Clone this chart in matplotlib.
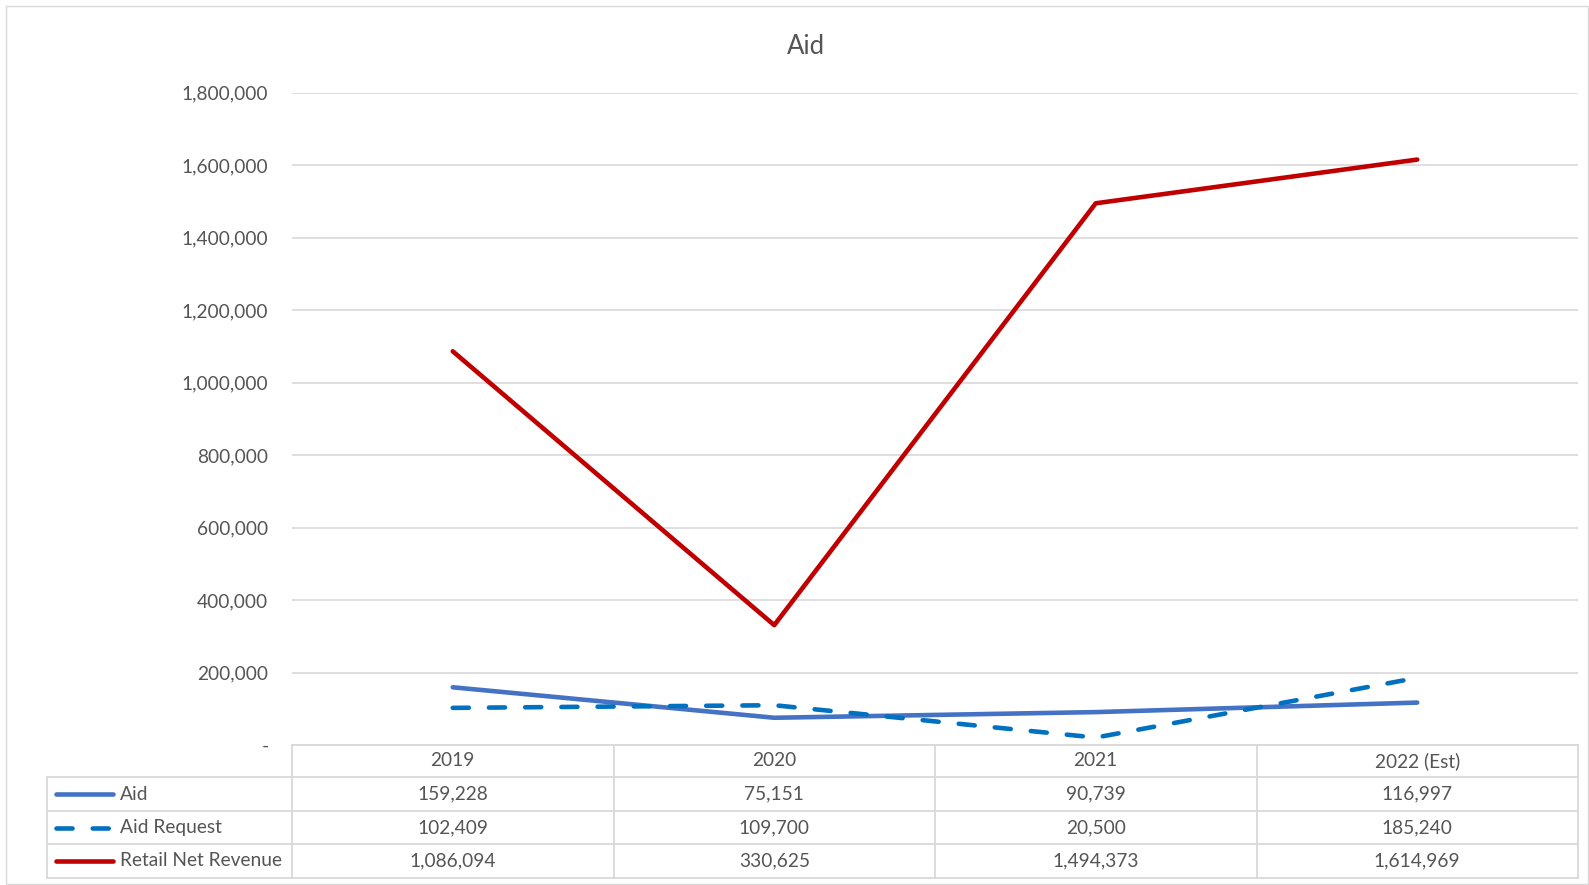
import matplotlib
matplotlib.use("Agg")
import matplotlib.pyplot as plt
from matplotlib.lines import Line2D
from matplotlib.patches import Rectangle
from matplotlib.ticker import FuncFormatter

plt.rcParams['font.family'] = ['Lato', 'DejaVu Sans']

years = ['2019', '2020', '2021', '2022 (Est)']
aid = [159228, 75151, 90739, 116997]
aid_request = [102409, 109700, 20500, 185240]
retail_net_revenue = [1086094, 330625, 1494373, 1614969]

series_names = ['Aid', 'Aid Request', 'Retail Net Revenue']
series_values = [aid, aid_request, retail_net_revenue]
series_colors = ['#4472C4', '#0070C0', '#C00000']
series_dashed = [False, True, False]

W, H = 1589, 885
TXT = '#555555'
GRID = '#D9D9D9'
FS = 13.8
LW = 3.3

# pixel helpers (top-left origin)
def fx(px):
    return px / W

def fy(py):
    return 1 - py / H

fig = plt.figure(figsize=(W / 100, H / 100), dpi=100)

# chart border
fig.add_artist(Rectangle((fx(6), fy(884)), fx(1588) - fx(6), fy(6) - fy(884),
                         transform=fig.transFigure, fill=False, edgecolor=GRID, lw=1))

left, right, top, zero = 292, 1578, 92.5, 745
ax = fig.add_axes([fx(left), fy(zero), fx(right) - fx(left), fy(top) - fy(zero)])
ax.set_xlim(-0.5, len(years) - 0.5)
ax.set_ylim(0, 1800000)
ax.set_yticks(range(0, 1800001, 200000))
ax.yaxis.set_major_formatter(FuncFormatter(lambda v, p: '-' if v == 0 else f'{int(v):,}'))
ax.tick_params(axis='y', length=0, pad=17, labelsize=FS, labelcolor=TXT)
ax.set_xticks([])
ax.grid(axis='y', color=GRID, lw=1.2)
ax.set_axisbelow(True)
for s in ax.spines.values():
    s.set_visible(False)

x = list(range(len(years)))
for name, vals, col, dashed in zip(series_names, series_values, series_colors, series_dashed):
    ln, = ax.plot(x, vals, color=col, lw=LW, solid_capstyle='round',
                  dash_capstyle='round', label=name)
    if dashed:
        ln.set_dashes((3.5, 4.4))

fig.text(fx(806), fy(47), 'Aid', ha='center', va='center', fontsize=18.5, color=TXT)

# data table below the plot
rows = [745, 777, 811, 844, 878]
tl = 47
lkw = dict(color=GRID, lw=1.3, transform=fig.transFigure)
# horizontal lines
fig.add_artist(Line2D([fx(left), fx(right)], [fy(rows[0])] * 2, **lkw))
for r in rows[1:]:
    fig.add_artist(Line2D([fx(tl), fx(right)], [fy(r)] * 2, **lkw))
# vertical lines
col_w = (right - left) / len(years)
for i in range(len(years) + 1):
    xp = left + i * col_w
    fig.add_artist(Line2D([fx(xp)] * 2, [fy(rows[0]), fy(rows[-1])], **lkw))
fig.add_artist(Line2D([fx(tl)] * 2, [fy(rows[1]), fy(rows[-1])], **lkw))

for i, yr in enumerate(years):
    cx = left + (i + 0.5) * col_w
    fig.text(fx(cx), fy((rows[0] + rows[1]) / 2), yr, ha='center', va='center',
             fontsize=FS, color=TXT)
    for j, vals in enumerate(series_values):
        fig.text(fx(cx), fy((rows[j + 1] + rows[j + 2]) / 2), f'{vals[i]:,}',
                 ha='center', va='center', fontsize=FS, color=TXT)

for j, (name, col, dashed) in enumerate(zip(series_names, series_colors, series_dashed)):
    yc = fy((rows[j + 1] + rows[j + 2]) / 2)
    key = Line2D([fx(56), fx(113)], [yc, yc], color=col, lw=LW,
                 solid_capstyle='round', dash_capstyle='round', transform=fig.transFigure)
    if dashed:
        key.set_dashes((3.5, 4.4))
    fig.add_artist(key)
    fig.text(fx(120), yc, name, ha='left', va='center', fontsize=FS, color=TXT)

fig.savefig('out.png', dpi=100, facecolor='white')
